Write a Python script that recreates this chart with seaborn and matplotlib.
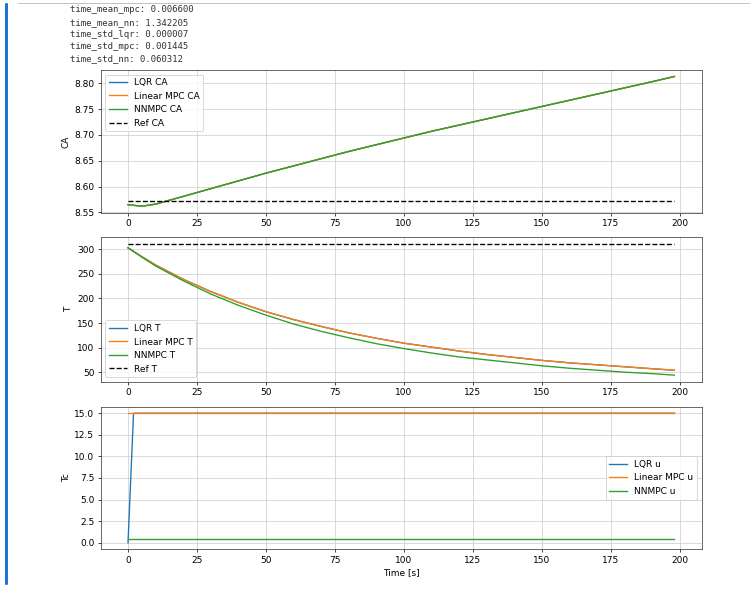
import matplotlib
matplotlib.use("Agg")
import matplotlib.pyplot as plt
import seaborn as sns
from matplotlib.patches import Rectangle, FancyBboxPatch
from matplotlib.lines import Line2D

# ---- Data ----
t_state = [0, 5, 10, 20, 30, 40, 50, 60, 70, 80, 90, 100,
           110, 120, 130, 140, 150, 160, 170, 180, 190, 198]

ca_lqr = [8.565, 8.562, 8.566, 8.581, 8.596, 8.611, 8.626, 8.640, 8.654, 8.668, 8.681,
          8.694, 8.707, 8.719, 8.731, 8.743, 8.755, 8.767, 8.779, 8.791, 8.803, 8.813]
ca_mpc = list(ca_lqr)
ca_nn = list(ca_lqr)
ca_ref = [8.572] * len(t_state)

T_lqr = [303, 285, 268, 239, 214, 192, 173, 157, 143, 130, 119,
         109, 101, 93, 86, 80, 74, 69, 65, 61, 57, 54]
T_mpc = list(T_lqr)
T_nn = [303, 284, 266, 236, 209, 186, 166, 148, 133, 120, 108,
        98, 89, 81, 75, 69, 63, 58, 54, 50, 47, 44]
T_ref = [311] * len(t_state)

t_u = [0, 2, 198]
u_lqr = [0.0, 15.0, 15.0]
u_mpc = [15.0, 15.0, 15.0]
u_nn = [0.4, 0.4, 0.4]

timing_lines = [
    "time_mean_mpc: 0.006600",
    "time_mean_nn: 1.342205",
    "time_std_lqr: 0.000007",
    "time_std_mpc: 0.001445",
    "time_std_nn: 0.060312",
]

blue, orange, green = "#1f77b4", "#ff7f0e", "#2ca02c"

# ---- Figure (notebook screenshot look) ----
W, H, DPI = 750, 593, 65
fig = plt.figure(figsize=(W / DPI, H / DPI), dpi=DPI)

def ax_rect(left, top, right, bottom):
    return [left / W, 1 - bottom / H, (right - left) / W, (bottom - top) / H]

ax1 = fig.add_axes(ax_rect(100.7, 70, 701.7, 212.7))
ax2 = fig.add_axes(ax_rect(100.7, 237.3, 701.7, 381.7))
ax3 = fig.add_axes(ax_rect(100.7, 406.7, 701.7, 549.3))

# CA
sns.lineplot(x=t_state, y=ca_lqr, ax=ax1, color=blue, label="LQR CA")
sns.lineplot(x=t_state, y=ca_mpc, ax=ax1, color=orange, label="Linear MPC CA")
sns.lineplot(x=t_state, y=ca_nn, ax=ax1, color=green, label="NNMPC CA")
sns.lineplot(x=t_state, y=ca_ref, ax=ax1, color="black", linestyle="--", label="Ref CA")
ax1.set_ylabel("CA")
ax1.legend(loc="upper left")

# T
sns.lineplot(x=t_state, y=T_lqr, ax=ax2, color=blue, label="LQR T")
sns.lineplot(x=t_state, y=T_mpc, ax=ax2, color=orange, label="Linear MPC T")
sns.lineplot(x=t_state, y=T_nn, ax=ax2, color=green, label="NNMPC T")
sns.lineplot(x=t_state, y=T_ref, ax=ax2, color="black", linestyle="--", label="Ref T")
ax2.set_ylabel("T")
ax2.legend(loc="lower left")

# Tc
sns.lineplot(x=t_u, y=u_lqr, ax=ax3, color=blue, label="LQR u")
sns.lineplot(x=t_u, y=u_mpc, ax=ax3, color=orange, label="Linear MPC u")
sns.lineplot(x=t_u, y=u_nn, ax=ax3, color=green, label="NNMPC u")
ax3.set_ylabel("Tc")
ax3.set_xlabel("Time [s]")
ax3.legend(loc="center right")

for ax in (ax1, ax2, ax3):
    ax.grid(True, color="#cccccc")
    ax.set_xticks([0, 25, 50, 75, 100, 125, 150, 175, 200])
    for s in ax.spines.values():
        s.set_color("#333333")

# printed output above the figure
for i, line in enumerate(timing_lines):
    fig.text(70 / W, 1 - (10 + 12.2 * i) / H, line, family="DejaVu Sans Mono",
             fontsize=10, color="#333333", va="center", ha="left")

# cell header divider
fig.add_artist(Line2D([18 / W, 1], [1 - 3 / H, 1 - 3 / H], transform=fig.transFigure,
                      color="#bdbdbd", linewidth=1, zorder=11))
# notebook active-cell bar
fig.add_artist(FancyBboxPatch((5 / W, 1 - 585 / H), 3 / W, 582 / H,
                              boxstyle="round,pad=0,rounding_size=0.002",
                              transform=fig.transFigure, facecolor="#1976d2",
                              edgecolor="none", zorder=11))

fig.savefig("out.png", dpi=DPI)
